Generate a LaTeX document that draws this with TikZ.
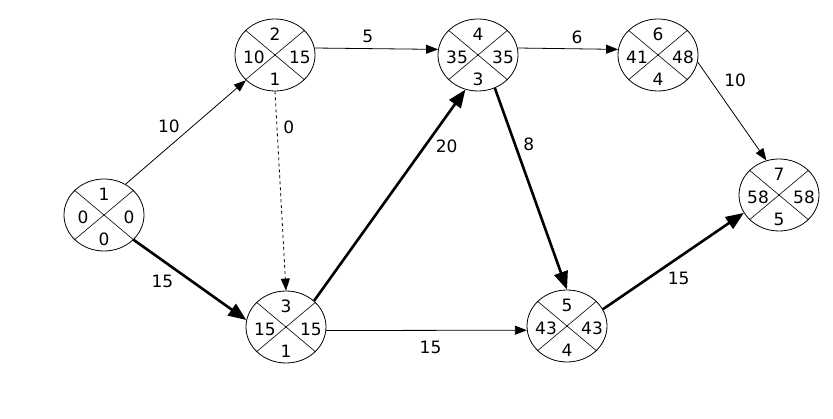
\documentclass[tikz,border=0pt]{standalone}
\usepackage{fontspec}
\setmainfont{DejaVu Sans}
\usetikzlibrary{arrows.meta,shapes.geometric}
\tikzset{event/.style={draw,ellipse,minimum width=80pt,minimum height=72pt,inner sep=0pt,line width=0.8pt},
  xline/.style={line width=0.6pt},
  act/.style={line width=0.8pt,-{Triangle[length=12pt,width=9pt]}},
  crit/.style={line width=2.6pt,-{Triangle[length=18pt,width=14pt]}},
  dummy/.style={act,dashed},
  lbl/.style={inner sep=1pt,font=\fontsize{17}{20}\selectfont}}
% event: name, position, number, earliest, latest, bottom
\newcommand{\event}[6]{%
  \node[event] (#1) at (#2) {};
  \draw[xline] (#1.40) -- (#1.220) (#1.140) -- (#1.320);
  \path (#1.center) ++(0,-21) node[lbl] (#1n) {#3};
  \path (#1.center) ++(-21,2) node[lbl] (#1e) {#4};
  \path (#1.center) ++(25,2) node[lbl] (#1l) {#5};
  \path (#1.center) ++(0,24) node[lbl] (#1b) {#6};}
\begin{document}
\fontsize{17}{20}\selectfont
\begin{tikzpicture}[x=1pt,y=-1pt]
\useasboundingbox (0,0) rectangle (833,419);
\event{e1}{104,215}{1}{0}{0}{0}
\event{e2}{275,55}{2}{10}{15}{1}
\event{e3}{286,327}{3}{15}{15}{1}
\event{e4}{478,55}{4}{35}{35}{3}
\event{e5}{567,326}{5}{43}{43}{4}
\event{e6}{658,55}{6}{41}{48}{4}
\event{e7}{779,195}{7}{58}{58}{5}
\draw[act] (e1.55) -- node[lbl,pos=0.47,above left=1pt] (a12) {10} (e2.221);
\draw[crit] (e1.-40) -- node[lbl,pos=0.39,below left=2pt] (a13) {15} (e3.170);
\draw[dummy] (e2.-90) -- node[lbl,pos=0.18,right=5pt] (a23) {0} (e3.90);
\draw[act] (e2.10) -- node[lbl,pos=0.43,above=4pt] (a24) {5} (e4.172);
\draw[crit] (e3.43) -- node[lbl,pos=0.73,right=9pt] (a34) {20} (e4.250);
\draw[act] (e3.-5) -- node[lbl,pos=0.52,below=9pt] (a35) {15} (e5.186);
\draw[crit] (e4.-63) -- node[lbl,pos=0.28,right=6pt] (a45) {8} (e5.90);
\draw[act] (e4.10) -- node[lbl,pos=0.59,above=4pt] (a46) {6} (e6.172);
\draw[act] (e6.-10) -- node[lbl,pos=0.31,above right=4pt] (a67) {10} (e7.110);
\draw[crit] (e5.25) -- node[lbl,pos=0.43,below right=2pt] (a57) {15} (e7.207);
\end{tikzpicture}
\end{document}
